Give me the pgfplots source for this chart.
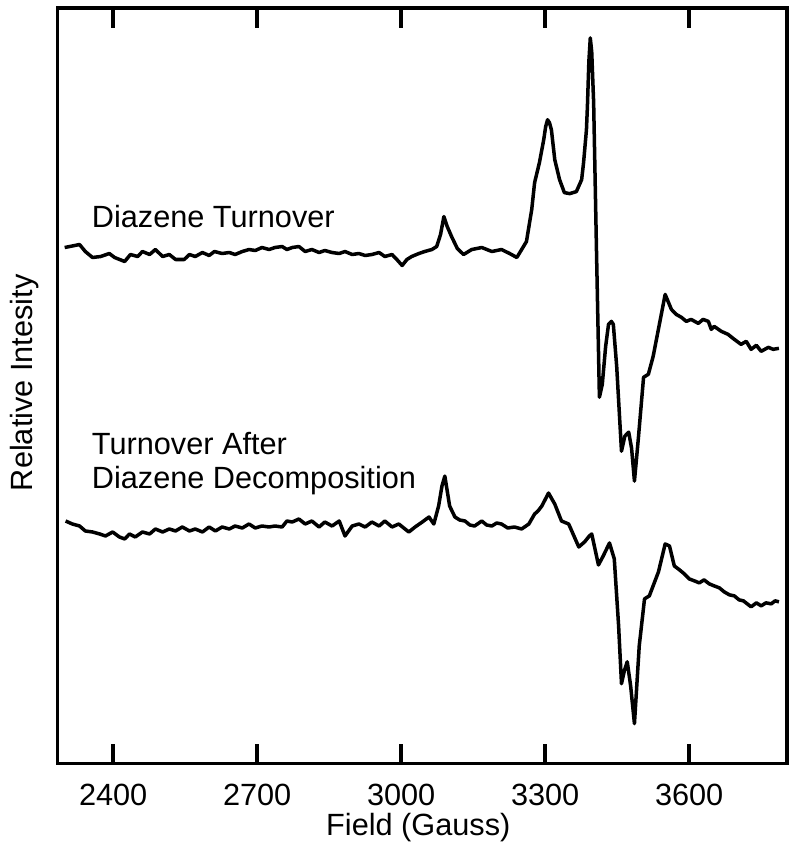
\documentclass[border=0pt]{standalone}
\usepackage{pgfplots}
\pgfplotsset{compat=1.18}
\usepackage{fontspec}
\setmainfont{Liberation Sans}
\begin{document}
\fontsize{17.5}{20}\selectfont
\begin{tikzpicture}
\begin{axis}[
  scale only axis, width=146.2mm, height=151.4mm,
  xmin=2284, xmax=3804, ymin=2, ymax=759,
  clip=false,
  xtick={2400,2700,3000,3300,3600},
  xticklabels={2400,2700,3000,3300,3600},
  ytick=\empty,
  tick align=inside, major tick length=4mm,
  axis line style={line width=2pt},
  major tick style={black, line width=2pt},
  xticklabel style={yshift=-2mm, font=\fontsize{17.5}{20}\selectfont},
]
\addplot[black, line width=2pt, line join=round] coordinates {
(2299,519)(2330,522)(2342,515)(2357,509)(2374,510)(2392,513)(2403,509)(2424,505)
(2436,512)(2451,510)(2461,515)(2476,512)(2488,517)(2503,510)(2517,512)(2530,507)
(2548,507)(2559,512)(2571,510)(2586,514)(2600,511)(2611,515)(2627,513)(2642,514)
(2654,512)(2669,515)(2683,517)(2696,516)(2710,519)(2725,517)(2737,519)(2752,520)
(2762,517)(2773,519)(2787,520)(2800,515)(2814,517)(2829,514)(2841,516)(2856,514)
(2871,513)(2883,515)(2898,512)(2912,513)(2925,511)(2939,512)(2954,514)(2966,510)
(2981,512)(2991,507)(3002,501)(3012,507)(3022,510)(3037,513)(3049,515)(3064,517)
(3074,520)(3082,532)(3089,550)(3096,540)(3105,530)(3117,518)(3130,512)(3147,517)(3168,519)(3189,515)(3209,517)
(3226,513)(3241,509)(3251,517)(3261,525)(3272,557)(3278,584)(3288,604)(3297,627)
(3301,640)(3305,647)(3309,644)(3313,637)(3320,607)(3330,587)(3340,574)(3351,573)(3365,575)(3376,587)
(3380,604)(3386,637)(3388,660)(3391,705)(3394,729)(3397,715)(3401,664)(3407,514)(3413,369)(3419,382)
(3426,420)(3432,442)(3438,445)(3442,442)(3449,400)(3459,315)(3466,330)(3474,334)(3480,318)(3486,285)(3494,327)
(3505,389)(3515,392)(3525,410)(3550,472)(3563,457)(3573,452)(3584,449)(3594,445)
(3604,447)(3619,443)(3629,447)(3640,445)(3646,437)(3652,440)(3667,435)(3681,432)
(3694,427)(3708,422)(3719,425)(3729,417)(3740,421)(3750,415)(3765,419)(3775,417)
(3787,418)
};
\addplot[black, line width=2pt, line join=round] coordinates {
(2301,245)(2315,242)(2330,240)(2342,235)(2357,234)(2372,232)(2384,230)(2399,234)
(2413,229)(2424,227)(2434,232)(2446,229)(2461,234)(2476,232)(2488,237)(2503,234)
(2517,237)(2530,235)(2544,239)(2559,235)(2571,237)(2586,234)(2600,239)(2613,235)
(2627,239)(2642,237)(2654,240)(2669,238)(2683,242)(2696,238)(2710,240)(2725,239)
(2737,240)(2752,239)(2762,245)(2773,244)(2787,247)(2800,242)(2814,245)(2829,239)
(2841,244)(2856,240)(2871,245)(2883,230)(2898,240)(2912,242)(2925,239)(2939,244)
(2954,240)(2966,245)(2981,239)(2995,242)(3008,237)(3016,234)(3029,239)(3044,244)
(3058,249)(3068,242)(3078,260)(3085,280)(3091,290)(3096,275)(3101,260)(3112,249)(3122,246)(3133,245)
(3143,241)(3153,240)(3168,245)(3178,241)(3189,240)(3199,243)(3209,242)(3222,238)
(3236,239)(3251,237)(3266,242)(3278,252)(3285,255)(3293,260)(3307,273)(3320,262)
(3334,245)(3349,242)(3370,219)(3382,224)(3392,230)(3397,232)(3411,201)(3421,210)
(3434,223)(3444,207)(3453,140)(3459,82)(3465,95)(3471,104)(3478,80)(3486,42)(3496,120)(3507,167)
(3517,170)(3536,194)(3550,222)(3559,220)(3569,200)(3580,196)(3590,192)(3600,187)
(3611,185)(3621,183)(3631,186)(3642,182)(3652,180)(3663,178)(3673,174)(3684,171)
(3694,170)(3704,166)(3713,165)(3721,162)(3729,159)(3740,163)(3750,160)(3760,163)
(3771,162)(3779,165)(3787,164)
};
\node[anchor=base west, inner sep=0pt] at (axis cs:2355,539) {Diazene Turnover};
\node[anchor=base west, inner sep=0pt] at (axis cs:2355,312) {Turnover After};
\node[anchor=base west, inner sep=0pt] at (axis cs:2355,278) {Diazene Decomposition};
\end{axis}
\node[rotate=90, anchor=center] at ([xshift=-6.6mm,yshift=0.6mm]current axis.west) {Relative Intesity};
\node[anchor=base] at ([yshift=-14.4mm,xshift=-0.8mm]current axis.south) {Field (Gauss)};
\path ([shift={(-11mm,-17.4mm)}]current axis.south west) rectangle ([shift={(2.8mm,1.6mm)}]current axis.north east);
\end{tikzpicture}
\end{document}
